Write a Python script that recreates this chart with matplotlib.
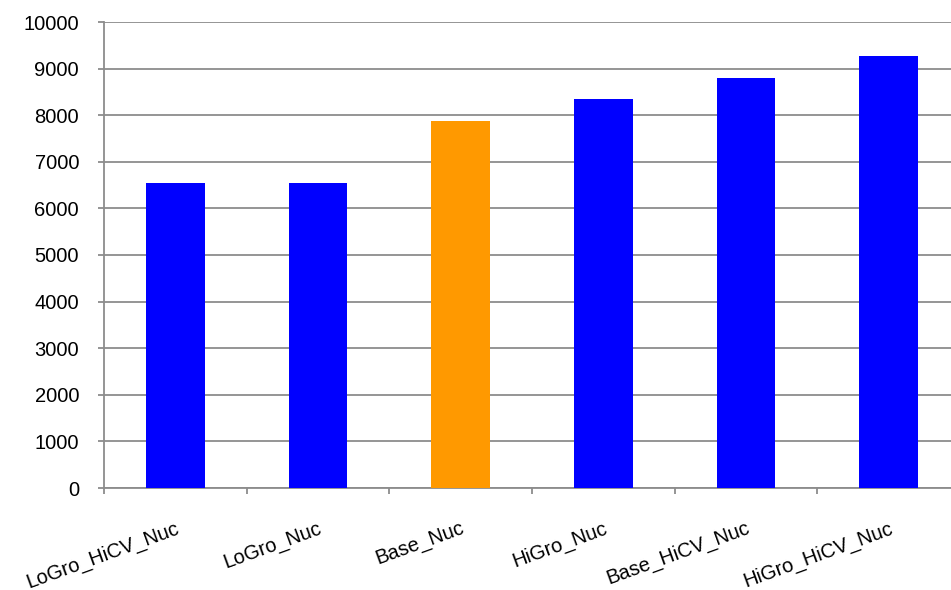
import matplotlib
matplotlib.use("Agg")
import matplotlib.pyplot as plt

categories = ["LoGro_HiCV_Nuc", "LoGro_Nuc", "Base_Nuc", "HiGro_Nuc", "Base_HiCV_Nuc", "HiGro_HiCV_Nuc"]
values = [6550, 6550, 7885, 8355, 8790, 9270]
bar_colors = ["#0000ff", "#0000ff", "#ff9900", "#0000ff", "#0000ff", "#0000ff"]
yticks = [0, 1000, 2000, 3000, 4000, 5000, 6000, 7000, 8000, 9000, 10000]

plt.rcParams["font.family"] = ["Liberation Sans", "DejaVu Sans"]

W, H = 951, 590
fig = plt.figure(figsize=(W / 100, H / 100), dpi=100)
# axes run past the right edge of the figure
left, right, top, bottom = 104, 960, 22, 488
ax = fig.add_axes([left / W, 1 - bottom / H, (right - left) / W, (bottom - top) / H])

x = list(range(len(categories)))
ax.bar(x, values, width=0.41, color=bar_colors, zorder=3)

ax.set_xlim(-0.5, len(categories) - 0.5)
ax.set_ylim(0, 10000)
ax.set_yticks(yticks)
ax.set_yticklabels([str(v) for v in yticks], fontsize=14.5)

grid_c = "#8c8c8c"
ax.yaxis.grid(True, color=grid_c, linewidth=1.3, zorder=0)
ax.set_axisbelow(True)

for s in ["top", "right"]:
    ax.spines[s].set_visible(False)
for s in ["left", "bottom"]:
    ax.spines[s].set_color(grid_c)
    ax.spines[s].set_linewidth(1.3)

# category boundary ticks on the x axis
ax.set_xticks([i - 0.5 for i in range(len(categories) + 1)])
ax.set_xticklabels([])
ax.tick_params(axis="x", which="major", length=4, color=grid_c, width=1.3)
ax.set_xticks(x, minor=True)
ax.set_xticklabels(categories, minor=True, rotation=20, ha="right", va="top",
                   rotation_mode="anchor", fontsize=14.5)
ax.tick_params(axis="x", which="minor", length=0, pad=22)
ax.tick_params(axis="y", length=4, color=grid_c, width=1.3, pad=14)

fig.savefig("out.png", dpi=100)
